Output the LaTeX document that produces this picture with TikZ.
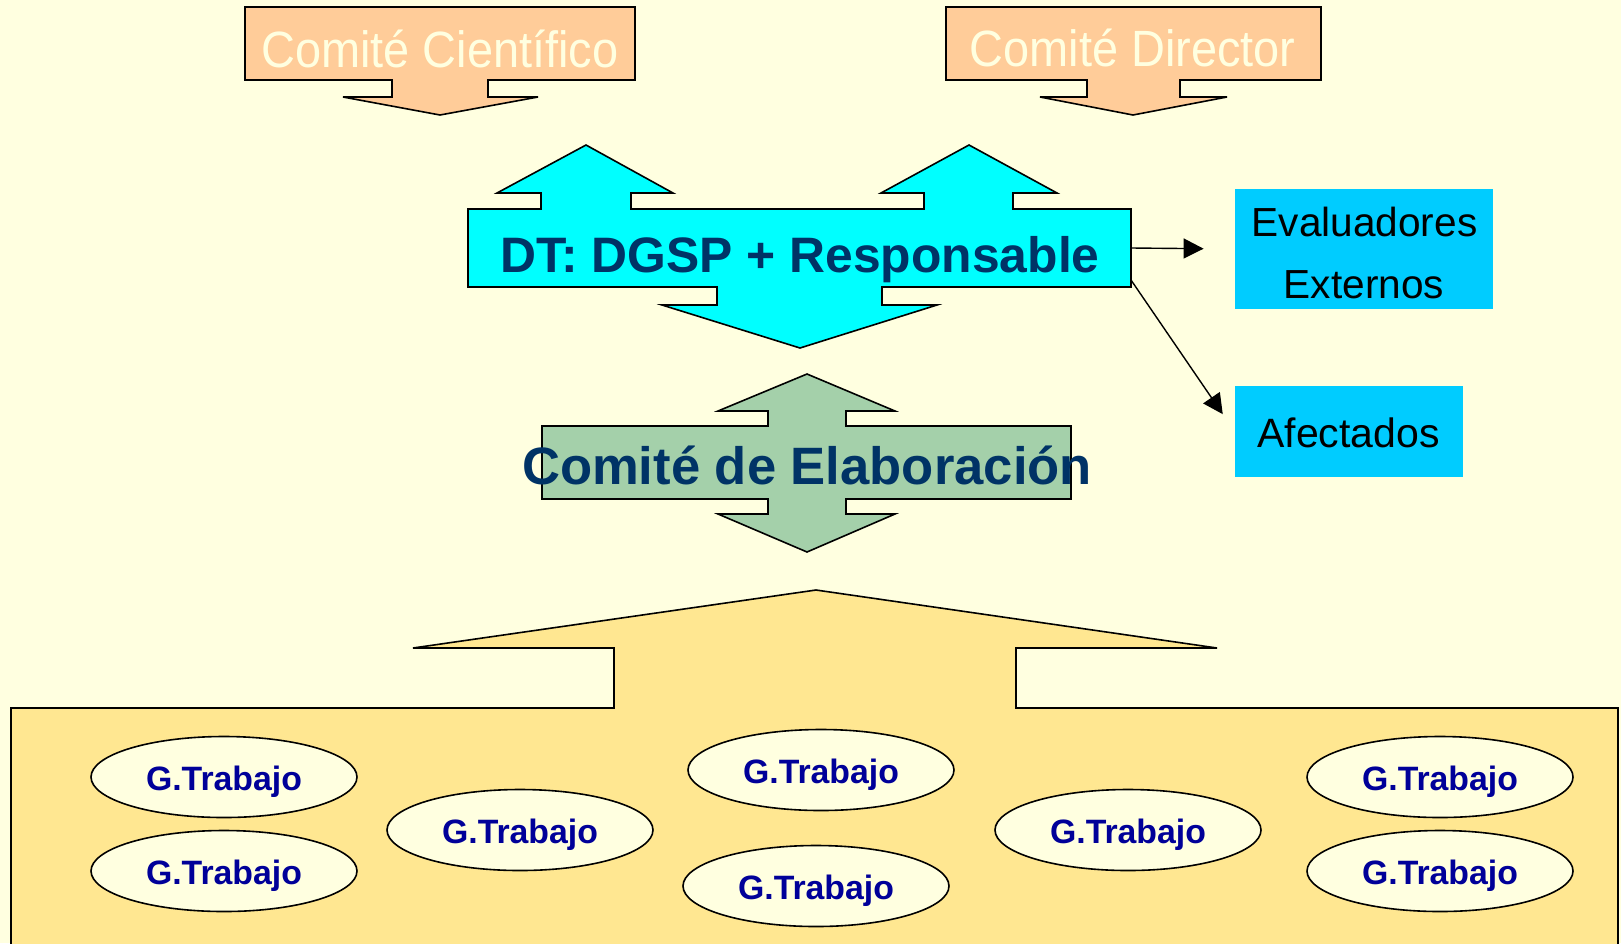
\documentclass[tikz,border=0pt]{standalone}
\usepackage{fontspec}
\setmainfont{Liberation Sans}
\newfontfamily\narrowfont[FakeStretch=0.92]{Liberation Sans}
\usetikzlibrary{arrows.meta,shapes.geometric}
\definecolor{bgc}{RGB}{255,255,224}
\definecolor{peach}{RGB}{255,204,153}
\definecolor{cyanc}{RGB}{0,255,255}
\definecolor{skyc}{RGB}{0,204,255}
\definecolor{greenc}{RGB}{164,208,170}
\definecolor{goldc}{RGB}{255,231,145}
\definecolor{navyc}{RGB}{0,51,102}
\definecolor{bluec}{RGB}{0,0,153}
\tikzset{
  shapeline/.style={draw=black, line width=0.8pt, line join=miter},
  comtext/.style={anchor=base, text=bgc, inner sep=0pt, font=\narrowfont\fontsize{25.5pt}{30pt}\selectfont},
  bigtext/.style={anchor=base, text=navyc, inner sep=0pt, font=\bfseries\fontsize{24.9pt}{30pt}\selectfont},
  sidebox/.style={fill=skyc, draw=none, inner sep=0pt, align=center, font=\fontsize{20.3pt}{30.5pt}\selectfont},
  gtrab/.style={ellipse, draw=black, line width=0.8pt, fill=bgc, inner sep=0pt,
    minimum width=133pt, minimum height=40.5pt, text height=14pt, text depth=0.5pt,
    text=bluec, font=\bfseries\fontsize{16.9pt}{20pt}\selectfont},
  conn/.style={draw=black, line width=0.7pt, -{Triangle[length=10pt,width=10pt]}}
}
\begin{document}
\begin{tikzpicture}[x=0.5pt,y=-0.5pt]
\useasboundingbox (0,0) rectangle (1621,943);
\clip (0,0) rectangle (1621,943);
\fill[bgc] (0,0) rectangle (1621,943);

% Comite Cientifico
\filldraw[shapeline, fill=peach] (245,7) -- (635,7) -- (635,80) -- (488,80) -- (488,97) -- (538,97) -- (440,115) -- (343,97) -- (392,97) -- (392,80) -- (245,80) -- cycle;
\node[comtext] (cc) at (440,67) {Comité Científico};

% Comite Director
\filldraw[shapeline, fill=peach] (946,7) -- (1321,7) -- (1321,80) -- (1180,80) -- (1180,97) -- (1227,97) -- (1133,115) -- (1040,97) -- (1087,97) -- (1087,80) -- (946,80) -- cycle;
\node[comtext] (cd) at (1132.5,66) {Comité Director};

% DT
\filldraw[shapeline, fill=cyanc] (468,209) -- (541,209) -- (541,193) -- (497,193) -- (586,145) -- (673,193) -- (631,193) -- (631,209) -- (924,209) -- (924,193) -- (881,193) -- (969,145) -- (1057,193) -- (1013,193) -- (1013,209) -- (1131,209) -- (1131,287) -- (882,287) -- (882,305) -- (937,305) -- (800,348) -- (662,305) -- (717,305) -- (717,287) -- (468,287) -- cycle;
\node[minimum width=331.5pt, minimum height=39pt, inner sep=0pt] (dt) at (799.5,248) {};
\node[bigtext] (dtt) at (800,272) {DT: DGSP + Responsable};

% Comite de Elaboracion
\filldraw[shapeline, fill=greenc] (542,426) -- (768,426) -- (768,411) -- (718,411) -- (807,374) -- (895,411) -- (846,411) -- (846,426) -- (1071,426) -- (1071,499) -- (846,499) -- (846,514) -- (895,514) -- (807,552) -- (718,514) -- (768,514) -- (768,499) -- (542,499) -- cycle;
\node[bigtext, font=\bfseries\fontsize{26.3pt}{30pt}\selectfont] (ce) at (807,484) {Comité de Elaboración};

% side boxes
\node[sidebox, minimum width=129pt, minimum height=60pt] (eval) at (1364,249) {};
\node[anchor=base, inner sep=0pt, font=\fontsize{20.3pt}{30pt}\selectfont] (evalt1) at (1364.5,236) {Evaluadores};
\node[anchor=base, inner sep=0pt, font=\fontsize{20.3pt}{30pt}\selectfont] (evalt2) at (1364,298) {Externos};
\node[sidebox, minimum width=114pt, minimum height=45.5pt] (afect) at (1349,431.5) {};
\node[anchor=base, inner sep=0pt, font=\fontsize{20.5pt}{30pt}\selectfont] (afectt) at (1348.5,447) {Afectados};

\coordinate (dtcorner) at (1131,280);
\draw[conn, shorten >=15.5pt] (dt.east) -- (eval.west);
\draw[conn, shorten >=10.5pt] (dtcorner) -- (afect.west);

% bottom
\filldraw[shapeline, fill=goldc] (11,708) -- (614,708) -- (614,648) -- (413,648) -- (816,590) -- (1217,648) -- (1016,648) -- (1016,708) -- (1618,708) -- (1618,960) -- (11,960) -- cycle;

\node[gtrab] (g1) at (224,777) {G.Trabajo};
\node[gtrab] (g2) at (224,871) {G.Trabajo};
\node[gtrab] (g3) at (520,830) {G.Trabajo};
\node[gtrab] (g4) at (821,770) {G.Trabajo};
\node[gtrab] (g5) at (816,886) {G.Trabajo};
\node[gtrab] (g6) at (1128,830) {G.Trabajo};
\node[gtrab] (g7) at (1440,777) {G.Trabajo};
\node[gtrab] (g8) at (1440,871) {G.Trabajo};
\end{tikzpicture}
\end{document}
